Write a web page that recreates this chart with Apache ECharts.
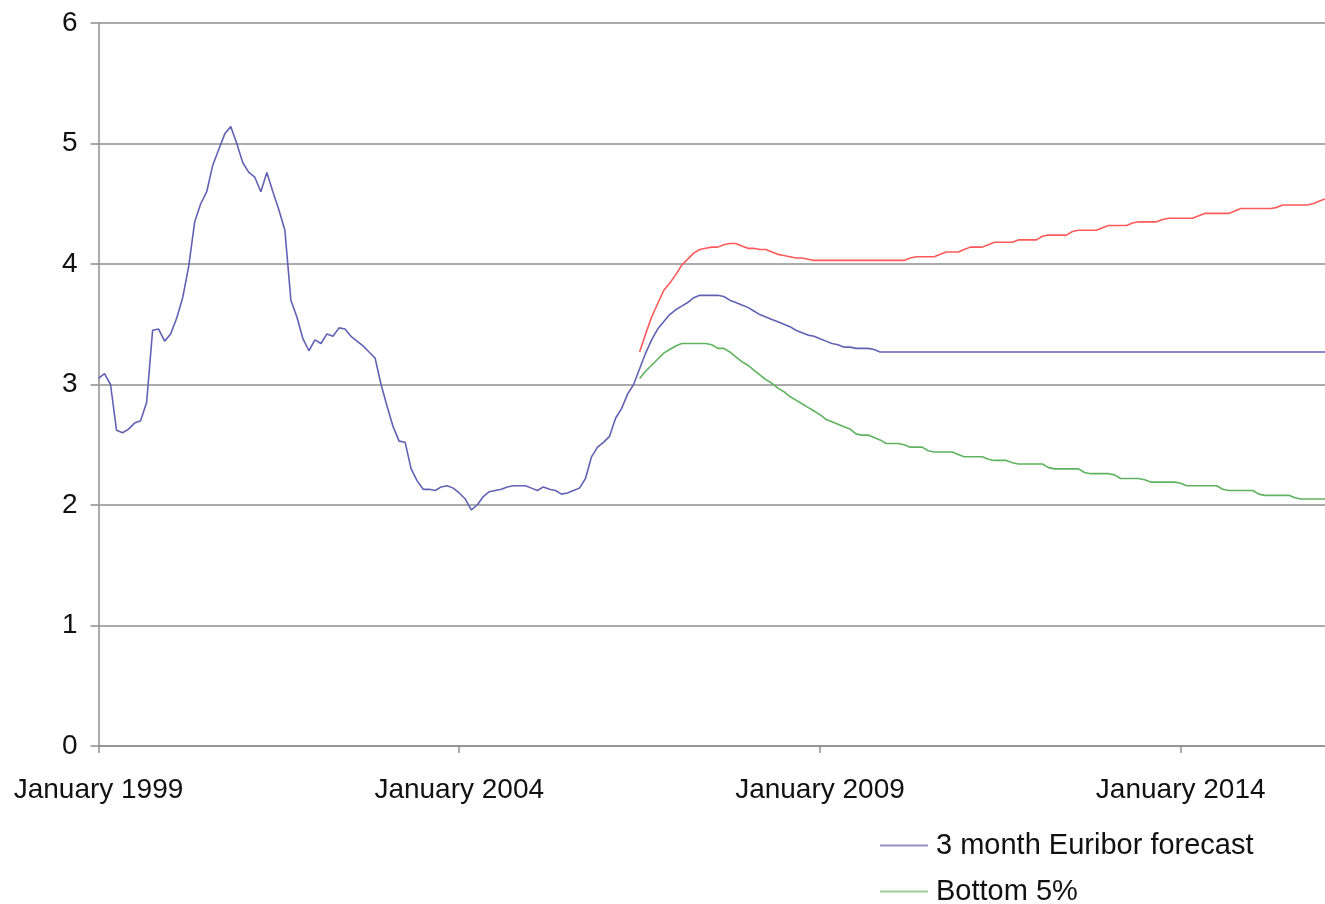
<!DOCTYPE html>
<html>
<head>
<meta charset="utf-8">
<script src="https://cdn.jsdelivr.net/npm/echarts@6/dist/echarts.min.js"></script>
<style>
html,body{margin:0;padding:0;background:#fff;}
#chart{width:1325px;height:904px;}
</style>
</head>
<body>
<div id="chart"></div>
<script>
// x = months since January 1999
const xTickLabels = ['January 1999', 'January 2004', 'January 2009', 'January 2014'];
const yTickLabels = ['0', '1', '2', '3', '4', '5', '6'];
const forecastStart = 90; // July 2006

// 3 month Euribor, history Jan 1999 .. Jun 2006 (monthly)
const euriborHistory = [
  3.05, 3.09, 3.00, 2.62, 2.60, 2.63, 2.68, 2.70, 2.85, 3.45,
  3.46, 3.36, 3.42, 3.55, 3.72, 3.98, 4.35, 4.50, 4.60, 4.82,
  4.95, 5.08, 5.14, 5.00, 4.84, 4.76, 4.72, 4.60, 4.76, 4.60,
  4.45, 4.28, 3.70, 3.56, 3.38, 3.28, 3.37, 3.34, 3.42, 3.40,
  3.47, 3.46, 3.40, 3.36, 3.32, 3.27, 3.22, 3.00, 2.82, 2.65,
  2.53, 2.52, 2.30, 2.20, 2.13, 2.13, 2.12, 2.15, 2.16, 2.14,
  2.10, 2.05, 1.96, 2.00, 2.07, 2.11, 2.12, 2.13, 2.15, 2.16,
  2.16, 2.16, 2.14, 2.12, 2.15, 2.13, 2.12, 2.09, 2.10, 2.12,
  2.14, 2.22, 2.40, 2.48, 2.52, 2.57, 2.72, 2.80, 2.92, 3.00
];

// forecast, Jul 2006 .. Jan 2016 (monthly)
const euriborForecast = [
  3.13, 3.26, 3.37, 3.46, 3.52, 3.58, 3.62, 3.65, 3.68, 3.72,
  3.74, 3.74, 3.74, 3.74, 3.73, 3.70, 3.68, 3.66, 3.64, 3.61,
  3.58, 3.56, 3.54, 3.52, 3.50, 3.48, 3.45, 3.43, 3.41, 3.40,
  3.38, 3.36, 3.34, 3.33, 3.31, 3.31, 3.30, 3.30, 3.30, 3.29,
  3.27, 3.27, 3.27, 3.27, 3.27, 3.27, 3.27, 3.27, 3.27, 3.27,
  3.27, 3.27, 3.27, 3.27, 3.27, 3.27, 3.27, 3.27, 3.27, 3.27,
  3.27, 3.27, 3.27, 3.27, 3.27, 3.27, 3.27, 3.27, 3.27, 3.27,
  3.27, 3.27, 3.27, 3.27, 3.27, 3.27, 3.27, 3.27, 3.27, 3.27,
  3.27, 3.27, 3.27, 3.27, 3.27, 3.27, 3.27, 3.27, 3.27, 3.27,
  3.27, 3.27, 3.27, 3.27, 3.27, 3.27, 3.27, 3.27, 3.27, 3.27,
  3.27, 3.27, 3.27, 3.27, 3.27, 3.27, 3.27, 3.27, 3.27, 3.27,
  3.27, 3.27, 3.27, 3.27, 3.27
];

const top5 = [
  3.27, 3.42, 3.56, 3.67, 3.78, 3.84, 3.91, 3.99, 4.04, 4.09,
  4.12, 4.13, 4.14, 4.14, 4.16, 4.17, 4.17, 4.15, 4.13, 4.13,
  4.12, 4.12, 4.10, 4.08, 4.07, 4.06, 4.05, 4.05, 4.04, 4.03,
  4.03, 4.03, 4.03, 4.03, 4.03, 4.03, 4.03, 4.03, 4.03, 4.03,
  4.03, 4.03, 4.03, 4.03, 4.03, 4.05, 4.06, 4.06, 4.06, 4.06,
  4.08, 4.10, 4.10, 4.10, 4.12, 4.14, 4.14, 4.14, 4.16, 4.18,
  4.18, 4.18, 4.18, 4.20, 4.20, 4.20, 4.20, 4.23, 4.24, 4.24,
  4.24, 4.24, 4.27, 4.28, 4.28, 4.28, 4.28, 4.30, 4.32, 4.32,
  4.32, 4.32, 4.34, 4.35, 4.35, 4.35, 4.35, 4.37, 4.38, 4.38,
  4.38, 4.38, 4.38, 4.40, 4.42, 4.42, 4.42, 4.42, 4.42, 4.44,
  4.46, 4.46, 4.46, 4.46, 4.46, 4.46, 4.47, 4.49, 4.49, 4.49,
  4.49, 4.49, 4.50, 4.52, 4.54
];

const bottom5 = [
  3.05, 3.11, 3.16, 3.21, 3.26, 3.29, 3.32, 3.34, 3.34, 3.34,
  3.34, 3.34, 3.33, 3.30, 3.30, 3.27, 3.23, 3.19, 3.16, 3.12,
  3.08, 3.04, 3.01, 2.97, 2.94, 2.90, 2.87, 2.84, 2.81, 2.78,
  2.75, 2.71, 2.69, 2.67, 2.65, 2.63, 2.59, 2.58, 2.58, 2.56,
  2.54, 2.51, 2.51, 2.51, 2.50, 2.48, 2.48, 2.48, 2.45, 2.44,
  2.44, 2.44, 2.44, 2.42, 2.40, 2.40, 2.40, 2.40, 2.38, 2.37,
  2.37, 2.37, 2.35, 2.34, 2.34, 2.34, 2.34, 2.34, 2.31, 2.30,
  2.30, 2.30, 2.30, 2.30, 2.27, 2.26, 2.26, 2.26, 2.26, 2.25,
  2.22, 2.22, 2.22, 2.22, 2.21, 2.19, 2.19, 2.19, 2.19, 2.19,
  2.18, 2.16, 2.16, 2.16, 2.16, 2.16, 2.16, 2.13, 2.12, 2.12,
  2.12, 2.12, 2.12, 2.09, 2.08, 2.08, 2.08, 2.08, 2.08, 2.06,
  2.05, 2.05, 2.05, 2.05, 2.05
];

const blueData = euriborHistory.map((v, i) => [i, v])
  .concat(euriborForecast.map((v, i) => [forecastStart + i, v]));
const redData = top5.map((v, i) => [forecastStart + i, v]);
const greenData = bottom5.map((v, i) => [forecastStart + i, v]);
const lastMonth = forecastStart + euriborForecast.length - 1;

const font = "'Liberation Sans', Arial, sans-serif";
const gridColor = '#8f8f8f';

const chart = echarts.init(document.getElementById('chart'), null, {renderer: 'canvas'});
chart.setOption({
  animation: false,
  backgroundColor: '#ffffff',
  grid: {left: 98.5, right: 0, top: 23, bottom: 158, containLabel: false},
  xAxis: {
    type: 'value',
    min: 0,
    max: lastMonth,
    interval: 60,
    axisLine: {show: true, onZero: false, lineStyle: {color: gridColor, width: 1.5}},
    axisTick: {show: true, length: 7, lineStyle: {color: gridColor, width: 1.5}},
    splitLine: {show: false},
    axisLabel: {
      margin: 30,
      fontSize: 28,
      fontFamily: font,
      color: '#111111',
      showMaxLabel: false,
      formatter: function (v) {
        return v % 60 === 0 ? xTickLabels[v / 60] : '';
      }
    }
  },
  yAxis: {
    type: 'value',
    min: 0,
    max: 6,
    interval: 1,
    axisLine: {show: true, lineStyle: {color: gridColor, width: 1.5}},
    axisTick: {show: true, length: 8, lineStyle: {color: gridColor, width: 1.5}},
    splitLine: {show: true, lineStyle: {color: gridColor, width: 1.5}},
    axisLabel: {
      margin: 21,
      fontSize: 28,
      fontFamily: font,
      color: '#111111',
      formatter: function (v) { return yTickLabels[v]; }
    }
  },
  legend: {
    orient: 'vertical',
    left: 880,
    top: 831,
    height: 90,
    padding: 0,
    icon: 'rect',
    itemWidth: 48,
    itemHeight: 2,
    itemGap: 17,
    data: [
      {name: '3 month Euribor forecast', itemStyle: {color: '#9890cc'}},
      {name: 'Bottom 5%', itemStyle: {color: '#9ccf9c'}}
    ],
    textStyle: {fontSize: 29, lineHeight: 28, fontFamily: font, color: '#111111', padding: [0, 0, 0, 3]}
  },
  series: [
    {
      name: 'Top 5%',
      type: 'line',
      data: redData,
      symbol: 'none',
      lineStyle: {color: '#ff5a5a', width: 1.6},
      itemStyle: {color: '#ff5a5a'}
    },
    {
      name: 'Bottom 5%',
      type: 'line',
      data: greenData,
      symbol: 'none',
      lineStyle: {color: '#5fb35f', width: 1.6},
      itemStyle: {color: '#5fb35f'}
    },
    {
      name: '3 month Euribor forecast',
      type: 'line',
      data: blueData,
      symbol: 'none',
      lineStyle: {color: '#6262b4', width: 1.6},
      itemStyle: {color: '#6262b4'}
    }
  ]
});
</script>
</body>
</html>
